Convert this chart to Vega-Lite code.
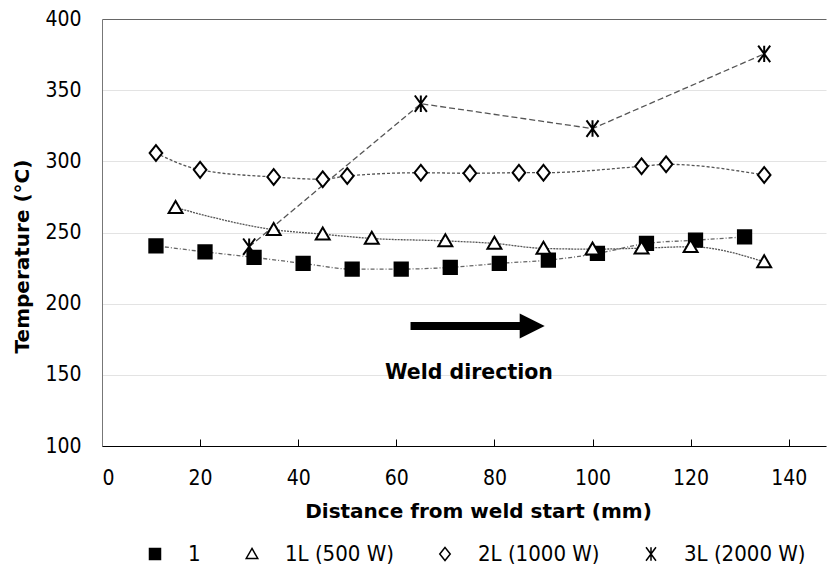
{
  "$schema": "https://vega.github.io/schema/vega-lite/v6.json",
  "width": 724,
  "height": 427,
  "autosize": "none",
  "padding": {"left": 102, "top": 19, "right": 4, "bottom": 125},
  "background": "white",
  "config": {
    "view": {"stroke": null},
    "font": "DejaVu Sans, sans-serif"
  },
  "datasets": {
    "temps": [
      {"series": "1", "x": 11, "temp": 240.6},
      {"series": "1", "x": 21, "temp": 236.4},
      {"series": "1", "x": 31, "temp": 232.5},
      {"series": "1", "x": 41, "temp": 228.3},
      {"series": "1", "x": 51, "temp": 224.3},
      {"series": "1", "x": 61, "temp": 224.3},
      {"series": "1", "x": 71, "temp": 225.5},
      {"series": "1", "x": 81, "temp": 228.3},
      {"series": "1", "x": 91, "temp": 230.6},
      {"series": "1", "x": 101, "temp": 235.3},
      {"series": "1", "x": 111, "temp": 242.3},
      {"series": "1", "x": 121, "temp": 244.6},
      {"series": "1", "x": 131, "temp": 246.9},
      {"series": "1L (500 W)", "x": 15, "temp": 267.5},
      {"series": "1L (500 W)", "x": 35, "temp": 252},
      {"series": "1L (500 W)", "x": 45, "temp": 248.8},
      {"series": "1L (500 W)", "x": 55, "temp": 245.8},
      {"series": "1L (500 W)", "x": 70, "temp": 244.1},
      {"series": "1L (500 W)", "x": 80, "temp": 242.3},
      {"series": "1L (500 W)", "x": 90, "temp": 238.8},
      {"series": "1L (500 W)", "x": 100, "temp": 238.3},
      {"series": "1L (500 W)", "x": 110, "temp": 239},
      {"series": "1L (500 W)", "x": 120, "temp": 240},
      {"series": "1L (500 W)", "x": 135, "temp": 229.4},
      {"series": "2L (1000 W)", "x": 11, "temp": 305.8},
      {"series": "2L (1000 W)", "x": 20, "temp": 294},
      {"series": "2L (1000 W)", "x": 35, "temp": 289},
      {"series": "2L (1000 W)", "x": 45, "temp": 287.4},
      {"series": "2L (1000 W)", "x": 50, "temp": 289.7},
      {"series": "2L (1000 W)", "x": 65, "temp": 292},
      {"series": "2L (1000 W)", "x": 75, "temp": 291.6},
      {"series": "2L (1000 W)", "x": 85, "temp": 292},
      {"series": "2L (1000 W)", "x": 90, "temp": 292},
      {"series": "2L (1000 W)", "x": 110, "temp": 296.5},
      {"series": "2L (1000 W)", "x": 115, "temp": 297.9},
      {"series": "2L (1000 W)", "x": 135, "temp": 290.4},
      {"series": "3L (2000 W)", "x": 30, "temp": 240},
      {"series": "3L (2000 W)", "x": 65, "temp": 340.5},
      {"series": "3L (2000 W)", "x": 100, "temp": 323},
      {"series": "3L (2000 W)", "x": 135, "temp": 375.5}
    ],
    "note": [{"label": "Weld direction"}]
  },
  "layer": [
    {
      "data": {"name": "temps"},
      "transform": [{"filter": "datum.series === '1'"}],
      "mark": {"type": "line", "interpolate": "monotone", "strokeWidth": 1.3, "color": "#666", "strokeDash": [4, 2, 1, 2]},
      "encoding": {
        "x": {
          "field": "x", "type": "quantitative",
          "scale": {"domain": [0, 147.6], "nice": false},
          "axis": {
            "values": [0, 20, 40, 60, 80, 100, 120, 140],
            "title": "Distance from weld start (mm)",
            "grid": false,
            "domainColor": "#000", "domainWidth": 1.2,
            "tickColor": "#000", "tickSize": -7, "tickWidth": 1,
            "labelFontSize": 21, "labelColor": "#000", "labelPadding": 28,
            "labelFont": "DejaVu Sans Condensed, DejaVu Sans, sans-serif",
            "titleFontSize": 20, "titleFontWeight": "bold", "titleColor": "#000",
            "titleFont": "DejaVu Sans, sans-serif",
            "titlePadding": 13, "titleX": 376
          }
        },
        "y": {
          "field": "temp", "type": "quantitative",
          "scale": {"domain": [100, 400], "nice": false},
          "axis": {
            "values": [100, 150, 200, 250, 300, 350, 400],
            "title": "Temperature (°C)",
            "grid": true,
            "gridColor": {"condition": {"test": "datum.value === 400", "value": "#666"}, "value": "#e3e3e3"},
            "gridWidth": 1,
            "domainColor": "#777", "domainWidth": 1,
            "ticks": false,
            "labelFontSize": 21, "labelColor": "#000", "labelPadding": 21,
            "labelFont": "DejaVu Sans Condensed, DejaVu Sans, sans-serif",
            "titleFontSize": 20, "titleFontWeight": "bold", "titleColor": "#000",
            "titleFont": "DejaVu Sans, sans-serif",
            "titleX": -70, "titleY": 237
          }
        }
      }
    },
    {
      "data": {"name": "temps"},
      "transform": [{"filter": "datum.series === '1L (500 W)'"}],
      "mark": {"type": "line", "interpolate": "monotone", "strokeWidth": 1.3, "color": "#555", "strokeDash": [2, 1]},
      "encoding": {
        "x": {"field": "x", "type": "quantitative"},
        "y": {"field": "temp", "type": "quantitative"}
      }
    },
    {
      "data": {"name": "temps"},
      "transform": [{"filter": "datum.series === '2L (1000 W)'"}],
      "mark": {"type": "line", "interpolate": "monotone", "strokeWidth": 1.3, "color": "#555", "strokeDash": [3, 2]},
      "encoding": {
        "x": {"field": "x", "type": "quantitative"},
        "y": {"field": "temp", "type": "quantitative"}
      }
    },
    {
      "data": {"name": "temps"},
      "transform": [{"filter": "datum.series === '3L (2000 W)'"}],
      "mark": {"type": "line", "interpolate": "linear", "strokeWidth": 1.3, "color": "#555", "strokeDash": [6, 3]},
      "encoding": {
        "x": {"field": "x", "type": "quantitative"},
        "y": {"field": "temp", "type": "quantitative"}
      }
    },
    {
      "data": {"name": "temps"},
      "mark": {"type": "point", "filled": false, "strokeWidth": 2, "opacity": 1, "color": "#000", "size": 160},
      "encoding": {
        "x": {"field": "x", "type": "quantitative"},
        "y": {"field": "temp", "type": "quantitative"},
        "shape": {
          "field": "series", "type": "nominal",
          "scale": {
            "domain": ["1", "1L (500 W)", "2L (1000 W)", "3L (2000 W)"],
            "range": ["M-1.05,-1.05H1.05V1.05H-1.05Z", "M0,-1.05L1.1,0.85L-1.1,0.85Z", "M0,-1.25L1,0L0,1.25L-1,0Z", "M-0.95,-1.3L0.95,1.3M-0.95,1.3L0.95,-1.3M0,-1.3L0,1.3"]
          },
          "legend": {
            "title": null, "orient": "none", "direction": "horizontal",
            "legendX": 42, "legendY": 524,
            "labelFontSize": 22, "labelColor": "#000",
            "labelFont": "DejaVu Sans Condensed, DejaVu Sans, sans-serif",
            "symbolSize": 110, "columnPadding": 40, "labelOffset": 22,
            "encode": {"symbols": {"update": {"stroke": {"value": "#333"}, "strokeWidth": {"value": 1.1}}}}
          }
        },
        "fill": {
          "field": "series", "type": "nominal",
          "scale": {"domain": ["1", "1L (500 W)", "2L (1000 W)", "3L (2000 W)"], "range": ["#000", "#fff", "#fff", "#fff"]},
          "legend": {
            "title": null, "orient": "none", "direction": "horizontal",
            "legendX": 42, "legendY": 524,
            "labelFontSize": 22, "labelColor": "#000",
            "labelFont": "DejaVu Sans Condensed, DejaVu Sans, sans-serif",
            "symbolSize": 110, "columnPadding": 40, "labelOffset": 22,
            "encode": {"symbols": {"update": {"stroke": {"value": "#333"}, "strokeWidth": {"value": 1.1}}}}
          }
        }
      }
    },
    {
      "data": {"name": "note"},
      "mark": {"type": "rule", "strokeWidth": 8, "color": "#000", "strokeCap": "butt"},
      "encoding": {
        "x": {"datum": 62.9},
        "x2": {"datum": 86},
        "y": {"datum": 184.3}
      }
    },
    {
      "data": {"name": "note"},
      "mark": {"type": "point", "shape": "M-1,-1L1,0L-1,1Z", "filled": true, "color": "#000", "opacity": 1, "size": 625},
      "encoding": {
        "x": {"datum": 87.7},
        "y": {"datum": 184.3}
      }
    },
    {
      "data": {"name": "note"},
      "mark": {"type": "text", "fontSize": 20.5, "fontWeight": "bold", "color": "#000", "align": "center", "baseline": "middle", "font": "DejaVu Sans, sans-serif"},
      "encoding": {
        "x": {"datum": 74.8},
        "y": {"datum": 151.5},
        "text": {"field": "label"}
      }
    }
  ]
}
